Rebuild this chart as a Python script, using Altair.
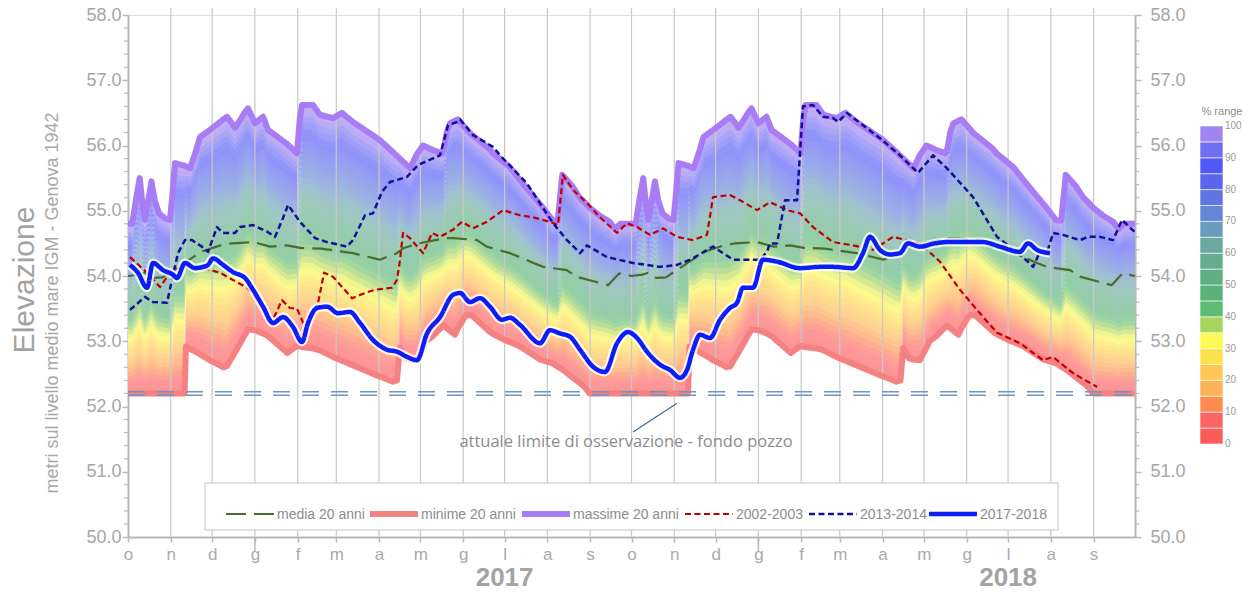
import altair as alt
import numpy as np
import pandas as pd

START = pd.Timestamp("2016-10-01")
W, H = 1007, 522

# ---------------- data ----------------
# 20-year statistics, days since 1 October of each hydrological year
clim_day = [0, 3, 6, 8.5, 10.5, 12.3, 15, 17, 19.5, 22.5, 27, 30.4, 32, 34.1, 41, 42, 45, 49, 52.2, 60,
            66.7, 69, 71.8, 75, 77.6, 84.8, 87, 92, 97.9, 101.5, 115.5, 122.5, 124.5, 126.1, 134.1, 139.2,
            148.6, 155.1, 163.1, 180, 182.7, 192, 195, 197, 201, 204.4, 209, 213.8, 216, 221.1, 227.6, 229,
            231, 233.4, 237, 239.2, 245, 247.9, 249, 262, 264.6, 275, 276.8, 284.2, 298.7, 300, 308, 311.5,
            314.8, 320.3, 322, 327.6, 331, 334.5, 342.2, 349.3, 353, 357, 365]
clim_max = [54.80, 54.80, 55.20, 55.50, 55.10, 54.86, 55.20, 55.45, 55.15, 54.96, 54.88, 54.86, 55.20, 55.73,
            55.69, 55.68, 55.65, 55.90, 56.13, 56.25, 56.36, 56.40, 56.44, 56.35, 56.27, 56.51, 56.57, 56.34,
            56.44, 56.24, 56.02, 55.88, 56.40, 56.62, 56.62, 56.47, 56.42, 56.50, 56.36, 56.12, 56.08, 55.90,
            55.84, 55.80, 55.72, 55.65, 55.85, 56.00, 55.98, 55.93, 55.88, 55.95, 56.20, 56.34, 56.38, 56.40,
            56.26, 56.19, 56.17, 55.95, 55.88, 55.70, 55.67, 55.47, 55.10, 55.07, 54.85, 54.85, 55.55, 55.42,
            55.38, 55.20, 55.13, 55.05, 54.92, 54.83, 54.72, 54.80, 54.80]
clim_min = [52.20, 52.20, 52.20, 52.20, 52.20, 52.20, 52.20, 52.20, 52.20, 52.20, 52.20, 52.20, 52.20, 52.20,
            52.20, 52.92, 52.88, 52.84, 52.80, 52.70, 52.63, 52.60, 52.62, 52.74, 52.83, 53.10, 53.18, 53.17,
            53.12, 53.08, 52.82, 52.93, 52.92, 52.91, 52.89, 52.86, 52.76, 52.70, 52.63, 52.48, 52.46, 52.38,
            52.40, 52.90, 52.74, 52.72, 52.71, 52.90, 53.00, 53.08, 53.22, 53.24, 53.20, 53.16, 53.10, 53.20,
            53.40, 53.40, 53.40, 53.15, 53.11, 53.00, 52.99, 52.92, 52.72, 52.71, 52.66, 52.61, 52.57, 52.48,
            52.45, 52.36, 52.30, 52.20, 52.20, 52.20, 52.20, 52.20, 52.20]
media_day = [0, 8, 12, 18, 25, 30, 42, 54, 67, 75, 91, 103, 115, 125, 140, 163, 182.5, 195, 200, 211,
             230, 236, 253, 260, 277, 284, 294, 301, 318, 325, 348, 352, 356, 365]
media_val = [54.00, 54.02, 54.05, 53.97, 53.98, 54.05, 54.22, 54.38, 54.47, 54.50, 54.52, 54.45, 54.47,
             54.43, 54.42, 54.35, 54.25, 54.35, 54.43, 54.50, 54.58, 54.58, 54.55, 54.45, 54.35, 54.29,
             54.20, 54.14, 54.09, 53.99, 53.86, 53.95, 54.04, 54.00]

# series, days since 1 October 2016
s0203_day = [1.4, 13.8, 23.2, 26.8, 30.4, 36.2, 50.0, 66.7, 86.3, 97.9, 104.4, 111.6, 117.4, 122.5, 128.3,
             137.7, 142.1, 148.6, 162.4, 171.8, 179.1, 191.4, 195.0, 197.2, 199.4, 204.4, 213.9, 220.4, 226.2,
             235.6, 242.1, 250.1, 260.3, 271.8, 284.2, 293.6, 305.9, 311.7, 315.3, 322.6, 332.7, 342.2, 354.5,
             361.7, 369.0, 378.4, 387.8, 398.0, 409.6, 419.7, 424.1, 436.4, 443.7, 456.0, 465.4, 477.7, 487.2,
             496.6, 511.1, 525.6, 540.1, 554.6, 574.1, 588.6, 603.1, 615.5, 630.0, 646.6, 663.3, 670.6, 685.1,
             702.5]
s0203_val = [54.29, 54.05, 53.83, 53.94, 54.05, 54.12, 54.15, 54.05, 53.82, 53.53, 53.30, 53.63, 53.51, 53.50,
             53.22, 53.58, 54.05, 53.99, 53.66, 53.74, 53.79, 53.82, 53.94, 54.25, 54.66, 54.58, 54.35, 54.66,
             54.60, 54.71, 54.83, 54.73, 54.83, 55.01, 54.93, 54.90, 54.83, 54.78, 55.55, 55.32, 55.12, 54.90,
             54.66, 54.81, 54.75, 54.63, 54.73, 54.60, 54.55, 54.63, 55.21, 55.24, 55.16, 55.01, 55.13, 55.01,
             54.96, 54.75, 54.52, 54.47, 54.40, 54.60, 54.50, 54.22, 53.79, 53.48, 53.13, 52.97, 52.71, 52.76,
             52.51, 52.30]
s1314_day = [1.4, 12.3, 18.1, 28.3, 31.9, 36.2, 41.3, 46.4, 53.6, 58.0, 64.5, 68.9, 77.6, 81.2, 90.6, 100.8,
             106.6, 112.4, 116.0, 124.7, 135.6, 144.3, 158.8, 163.1, 171.8, 177.6, 184.1, 189.9, 202.3, 210.2,
             226.2, 232.0, 238.5, 240.7, 250.1, 264.6, 269.7, 289.2, 308.1, 318.2, 327.7, 332.7, 347.2, 366.1,
             385.7, 398.0, 409.6, 419.7, 424.1, 438.6, 458.1, 463.2, 465.4, 470.5, 476.3, 485.0, 489.3, 496.6,
             503.8, 511.1, 514.7, 521.2, 545.1, 559.6, 572.7, 583.6, 593.7, 612.6, 630.0, 648.8, 656.1, 661.1,
             666.2, 670.6, 677.8, 690.1, 695.9, 704.6, 714.1, 720.6, 730.0]
s1314_val = [53.48, 53.68, 53.60, 53.59, 53.94, 54.35, 54.55, 54.55, 54.45, 54.37, 54.75, 54.66, 54.66, 54.75,
             54.78, 54.68, 54.60, 54.89, 55.09, 54.83, 54.58, 54.52, 54.45, 54.55, 54.93, 54.96, 55.29, 55.44,
             55.52, 55.70, 55.85, 56.31, 56.36, 56.40, 56.16, 55.98, 55.85, 55.42, 54.81, 54.55, 54.35, 54.47,
             54.29, 54.20, 54.14, 54.17, 54.27, 54.40, 54.45, 54.25, 54.25, 54.37, 54.50, 54.50, 55.16, 55.16,
             56.60, 56.62, 56.44, 56.42, 56.36, 56.50, 56.11, 55.85, 55.58, 55.85, 55.65, 55.21, 54.60, 54.29,
             54.14, 54.37, 54.35, 54.66, 54.63, 54.55, 54.60, 54.60, 54.55, 54.86, 54.67]
s1718_day = [1.4, 7.2, 13.8, 18.1, 25.4, 32.6, 35.5, 41.3, 48.6, 54.4, 58.0, 61.6, 68.9, 76.1, 84.8, 90.6,
             97.9, 105.1, 112.4, 119.6, 126.1, 130.5, 137.0, 144.3, 152.2, 160.9, 168.2, 177.6, 187.8, 195.0,
             202.3, 209.5, 216.8, 226.2, 235.6, 240.7, 247.9, 255.2, 262.4, 271.1, 276.9, 284.2, 298.7, 305.9,
             313.1, 320.4, 327.7, 337.1, 345.8, 354.5, 362.5, 369.0, 376.2, 385.7, 392.9, 400.2, 405.2, 409.6,
             414.7, 421.9, 429.2, 436.4, 441.5, 445.8, 453.1, 460.3, 470.5, 487.2, 501.7, 511.1, 525.6, 532.8,
             537.9, 545.1, 552.4, 559.6, 565.4, 574.1, 585.0, 593.7, 605.3, 619.8, 632.1, 646.6, 652.4, 659.0,
             668.4]
s1718_val = [54.17, 54.05, 53.82, 54.20, 54.09, 54.02, 53.97, 54.20, 54.12, 54.14, 54.17, 54.27, 54.17, 54.06,
             53.97, 53.79, 53.53, 53.28, 53.37, 53.22, 52.99, 53.28, 53.51, 53.53, 53.43, 53.45, 53.28, 53.02,
             52.87, 52.84, 52.76, 52.71, 53.12, 53.37, 53.71, 53.74, 53.60, 53.66, 53.53, 53.33, 53.36, 53.25,
             52.97, 53.17, 53.12, 53.07, 52.87, 52.61, 52.53, 52.97, 53.14, 53.05, 52.84, 52.64, 52.56, 52.44,
             52.56, 52.87, 53.10, 53.05, 53.33, 53.51, 53.59, 53.82, 53.82, 54.25, 54.22, 54.12, 54.14, 54.14,
             54.12, 54.35, 54.60, 54.40, 54.33, 54.35, 54.50, 54.45, 54.50, 54.52, 54.52, 54.52, 54.45, 54.37,
             54.50, 54.40, 54.35]

limit_value = 52.2
annot_text = "attuale limite di osservazione - fondo pozzo"
annot_day, annot_val = 361.0, 51.46
annot_line_day = [366.1, 398.0]
annot_line_val = [51.61, 52.05]

series_names = ["media 20 anni", "minime 20 anni", "massime 20 anni", "2002-2003", "2013-2014", "2017-2018"]
series_colors = ["#4b6b2c", "#f48282", "#a87cf5", "#c00000", "#10109a", "#0a1ef5"]
series_dash = [[20, 8], [1, 0], [1, 0], [6, 3.5], [6, 3.5], [1, 0]]
series_width = [2.2, 6, 6, 2.2, 2.5, 4.5]

month_letters = ["g", "f", "m", "a", "m", "g", "l", "a", "s", "o", "n", "d"]
year_labels = ["2017", "2018"]
year_label_dates = ["2017-07-01", "2018-07-01"]
jan_dates = ["2017-01-01", "2018-01-01"]
y_major = [50, 51, 52, 53, 54, 55, 56, 57, 58]

range_colors = ["#fb5b5b", "#fd6464", "#fe8c50", "#fdb356", "#fec853", "#fde04e", "#fbfb53", "#a9d45c",
                "#5ebb72", "#5ab27a", "#5faf83", "#66ad90", "#6aa8a0", "#6b9bbd", "#6585d6", "#6075df",
                "#5b66ec", "#5257f7", "#6f70f1", "#a184f0"]
range_ticks = [0, 10, 20, 30, 40, 50, 60, 70, 80, 90, 100]

# layout (pixels, relative to the plot area)
FONT = "Liberation Sans, Arial, sans-serif"
GRAY_TXT = "#a6a6a6"
AXIS_GRAY = "#b8b8b8"
LEG_BOX = (77, 930, 468, 515)
LEG_Y = 499
LEG_TEXT_X = [149, 293, 445, 608, 732, 852]
LEG_SYM = 48


def to_date(days):
    return START + pd.to_timedelta(np.asarray(days, dtype=float), unit="D")


def two_years(days, vals):
    d = list(days) + [x + 365 for x in days[1:]]
    v = list(vals) + list(vals[1:])
    return d, v


# ---------------- tables ----------------
env_d, env_max = two_years(clim_day, clim_max)
_, env_min = two_years(clim_day, clim_min)
env_max = np.array(env_max)
env_min = np.array(env_min)
env_dates = to_date(env_d)


def hex2rgb(h):
    return np.array([int(h[i:i + 2], 16) for i in (1, 3, 5)], dtype=float)


cb_rgb = np.array([hex2rgb(c) for c in range_colors])
NB = 40
band_names, band_cols, frames = [], [], []
for k in range(NB):
    p = (k + 0.5) / NB * 20 - 0.5
    i0 = int(np.clip(np.floor(p), 0, 19))
    i1 = min(i0 + 1, 19)
    t = float(np.clip(p - i0, 0, 1))
    c = cb_rgb[i0] * (1 - t) + cb_rgb[i1] * t
    c = c * 0.65 + 255 * 0.35
    name = f"b{k:02d}"
    band_names.append(name)
    band_cols.append("#%02x%02x%02x" % tuple(int(round(v)) for v in c))
    rng = env_max - env_min
    lo = env_min + rng * k / NB
    hi = env_min + rng * (k + 1) / NB + (0.012 if k < NB - 1 else 0)
    frames.append(pd.DataFrame({"date": env_dates, "lo": lo, "hi": hi, "band": name}))
bands = pd.concat(frames, ignore_index=True)

md, mv = two_years(media_day, media_val)
parts = [
    pd.DataFrame({"date": to_date(md), "v": mv, "serie": series_names[0]}),
    pd.DataFrame({"date": env_dates, "v": env_min, "serie": series_names[1]}),
    pd.DataFrame({"date": env_dates, "v": env_max, "serie": series_names[2]}),
    pd.DataFrame({"date": to_date(s0203_day), "v": s0203_val, "serie": series_names[3]}),
    pd.DataFrame({"date": to_date(s1314_day), "v": s1314_val, "serie": series_names[4]}),
    pd.DataFrame({"date": to_date(s1718_day), "v": s1718_val, "serie": series_names[5]}),
]
lines = pd.concat(parts, ignore_index=True)

grid_df = pd.DataFrame({"date": pd.date_range("2016-11-01", "2018-09-01", freq="MS")})
jan_df = pd.DataFrame({"date": pd.to_datetime(jan_dates)})
year_df = pd.DataFrame({"date": pd.to_datetime(year_label_dates), "t": year_labels})
minor_vals = [round(50 + 0.2 * i, 1) for i in range(41) if i % 5]
minor_df = pd.DataFrame({"v": minor_vals})
limit_df = pd.DataFrame({"v": [limit_value]})
annot_df = pd.DataFrame({"date": to_date([annot_day]), "v": [annot_val], "t": [annot_text]})
annot_line_df = pd.DataFrame({"date": to_date([annot_line_day[0]]), "v": [annot_line_val[0]],
                              "date2": to_date([annot_line_day[1]]), "v2": [annot_line_val[1]]})
legend_df = pd.DataFrame({"serie": series_names})

# ---------------- scales / axes ----------------
month_vals = [alt.DateTime(year=2016 + (9 + i) // 12, month=(9 + i) % 12 + 1, date=1) for i in range(24)]
x_scale = alt.Scale(domain=[alt.DateTime(year=2016, month=10, date=1),
                            alt.DateTime(year=2018, month=10, date=1)], nice=False)
label_expr = "[" + ",".join(f"'{m}'" for m in month_letters) + "][month(datum.value)]"
x_axis = alt.Axis(values=month_vals, labelExpr=label_expr, grid=False, tickSize=5, tickColor=AXIS_GRAY,
                  tickWidth=1.5, domainColor=AXIS_GRAY, domainWidth=2, labelFont=FONT, labelFontSize=17,
                  labelColor="#aaaaaa", labelPadding=4, labelFlush=False, labelOverlap=False, title=None)
y_scale = alt.Scale(domain=[50, 58], nice=False, zero=False)
y_axis = alt.Axis(values=y_major, format=".1f", tickSize=6, tickColor=AXIS_GRAY, tickWidth=1.5,
                  domainColor=AXIS_GRAY, domainWidth=2, labelFont=FONT, labelFontSize=18,
                  labelColor=GRAY_TXT, labelPadding=1, grid=False, title=None)

X = alt.X("date:T", scale=x_scale, axis=x_axis)


def Y(field):
    return alt.Y(field, scale=y_scale, axis=y_axis)


enc_style = dict(
    color=alt.Color("serie:N", scale=alt.Scale(domain=series_names, range=series_colors), legend=None),
    strokeDash=alt.StrokeDash("serie:N", scale=alt.Scale(domain=series_names, range=series_dash), legend=None),
)
WIDTH = dict(zip(series_names, series_width))


def line_layer(names, interp="linear"):
    return alt.Chart(lines).transform_filter(
        alt.FieldOneOfPredicate(field="serie", oneOf=names)
    ).mark_line(interpolate=interp, strokeJoin="round", strokeWidth=WIDTH[names[0]]).encode(
        x=X, y=Y("v:Q"), **enc_style)


# ---------------- layers ----------------
band_layer = alt.Chart(bands).mark_area(interpolate="linear").encode(
    x=X, y=Y("lo:Q"), y2="hi:Q",
    fill=alt.Fill("band:N", scale=alt.Scale(domain=band_names, range=band_cols), legend=None),
)
grid_layer = alt.Chart(grid_df).mark_rule(color="#c9c9c9", strokeWidth=1.2).encode(
    x=X, y=alt.value(-8), y2=alt.value(H))
env_layer = line_layer(series_names[1:3])
limit_a = alt.Chart(limit_df).mark_rule(color="#7394bf", strokeWidth=1.5, strokeDash=[17, 12], yOffset=-1.8).encode(
    y=Y("v:Q"), x=alt.value(0), x2=alt.value(W))
limit_b = alt.Chart(limit_df).mark_rule(color="#7394bf", strokeWidth=1.5, strokeDash=[17, 12], yOffset=1.8).encode(
    y=Y("v:Q"), x=alt.value(0), x2=alt.value(W))
media_layer = line_layer([series_names[0]])
l0203 = line_layer([series_names[3]])
l1314 = line_layer([series_names[4]])
halo = alt.Chart(lines).transform_filter(alt.datum.serie == series_names[5]).mark_line(
    color="white", strokeWidth=9, opacity=0.8, interpolate="monotone", strokeJoin="round").encode(x=X, y=Y("v:Q"))
l1718 = line_layer([series_names[5]], "monotone")
minor_l = alt.Chart(minor_df).mark_rule(color=AXIS_GRAY, strokeWidth=1.2).encode(
    y=Y("v:Q"), x=alt.value(-4), x2=alt.value(0))
minor_r = alt.Chart(minor_df).mark_rule(color=AXIS_GRAY, strokeWidth=1.2).encode(
    y=Y("v:Q"), x=alt.value(W), x2=alt.value(W + 4))
jan_ticks = alt.Chart(jan_df).mark_rule(color=AXIS_GRAY, strokeWidth=1.5).encode(
    x=X, y=alt.value(H), y2=alt.value(H + 15))
year_text = alt.Chart(year_df).mark_text(font=FONT, fontSize=26, fontWeight="bold", color="#a3a3a3",
                                         baseline="alphabetic").encode(x=X, y=alt.value(H + 49), text="t:N")
annot_line = alt.Chart(annot_line_df).mark_rule(color="#3d65a0", strokeWidth=1.2).encode(
    x=X, y=Y("v:Q"), x2="date2:T", y2="v2:Q")
annot = alt.Chart(annot_df).mark_text(font="Open Sans", fontSize=16.5, color="#8c8c8c", baseline="middle").encode(
    x=X, y=Y("v:Q"), text="t:N")
t1 = alt.Chart(pd.DataFrame({"t": ["Elevazione"]})).mark_text(
    angle=270, font=FONT, fontSize=30, color="#a3a3a3", align="center", baseline="middle").encode(
    x=alt.value(-103), y=alt.value(265), text="t:N")
t2 = alt.Chart(pd.DataFrame({"t": ["metri sul livello medio mare IGM - Genova 1942"]})).mark_text(
    angle=270, font=FONT, fontSize=18, color="#a8a8a8", align="center", baseline="middle").encode(
    x=alt.value(-75), y=alt.value(288), text="t:N")

# legend box drawn with the chart's own scales
leg_box = alt.Chart(pd.DataFrame({"k": [0]})).mark_rect(fill="white", stroke="#c4c4c4", strokeWidth=1).encode(
    x=alt.value(LEG_BOX[0]), x2=alt.value(LEG_BOX[1]), y=alt.value(LEG_BOX[2]), y2=alt.value(LEG_BOX[3]))
leg_layers = [leg_box]
for i, name in enumerate(series_names):
    sub = legend_df[legend_df["serie"] == name]
    tx = LEG_TEXT_X[i]
    leg_layers.append(alt.Chart(sub).mark_rule(strokeCap="butt", strokeWidth=WIDTH[name]).encode(
        x=alt.value(tx - 3 - LEG_SYM), x2=alt.value(tx - 3), y=alt.value(LEG_Y), **enc_style))
    leg_layers.append(alt.Chart(sub).mark_text(align="left", baseline="middle", font=FONT, fontSize=14,
                                               color="#8c8c8c").encode(
        x=alt.value(tx), y=alt.value(LEG_Y + 1), text="serie:N"))

main = alt.layer(band_layer, grid_layer, env_layer, limit_a, limit_b, media_layer, l0203, l1314, halo, l1718,
                 minor_l, minor_r, jan_ticks, year_text, annot_line, annot, t1, t2, *leg_layers)

right_axis = alt.Chart(pd.DataFrame({"v": [50, 58]})).mark_point(opacity=0).encode(
    y=alt.Y("v:Q", scale=alt.Scale(domain=[50, 58], nice=False, zero=False),
            axis=alt.Axis(orient="right", values=y_major, format=".1f", tickSize=6, tickColor=AXIS_GRAY,
                          tickWidth=1.5, domainColor=AXIS_GRAY, domainWidth=2, labelFont=FONT,
                          labelFontSize=18, labelColor=GRAY_TXT, labelPadding=9, grid=False, title=None)))

cb_scale = alt.Scale(domain=[-29.25, 134.9], nice=False, zero=False)
cb_df = pd.DataFrame({"lo": list(range(0, 100, 5)), "hi": list(range(5, 105, 5)),
                      "c": [f"c{i:02d}" for i in range(20)]})
cb_rect = alt.Chart(cb_df).mark_rect(stroke="white", strokeWidth=0.6).encode(
    x=alt.value(1072), x2=alt.value(1095), y=alt.Y("lo:Q", scale=cb_scale, axis=None), y2="hi:Q",
    fill=alt.Fill("c:N", scale=alt.Scale(domain=list(cb_df["c"]), range=range_colors), legend=None))
cb_lab = alt.Chart(pd.DataFrame({"v": range_ticks})).mark_text(
    align="left", baseline="middle", font=FONT, fontSize=10, color="#9a9a9a").encode(
    x=alt.value(1097), y=alt.Y("v:Q", scale=cb_scale, axis=None), text=alt.Text("v:Q"))
cb_title = alt.Chart(pd.DataFrame({"t": ["% range"], "v": [104.5]})).mark_text(
    align="center", baseline="middle", font=FONT, fontSize=11, color="#8c8c8c").encode(
    x=alt.value(1094), y=alt.Y("v:Q", scale=cb_scale, axis=None), text="t:N")
colorbar = alt.layer(cb_rect, cb_lab, cb_title)

chart = alt.layer(main, right_axis, colorbar).resolve_scale(
    y="independent", fill="independent"
).properties(
    width=W, height=H,
    padding={"left": 120, "top": 7, "right": 109, "bottom": 54},
    autosize=alt.AutoSizeParams(type="none"),
).configure_view(stroke=None).configure(font=FONT)

chart.save("out.html", embed_options={"renderer": "svg", "actions": False})
